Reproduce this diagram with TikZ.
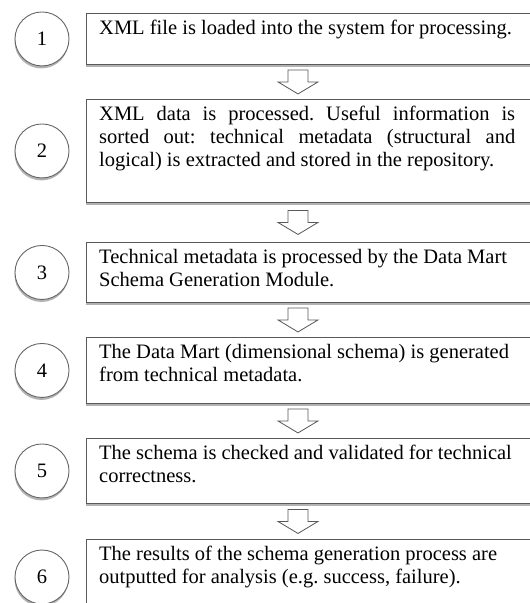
\documentclass[tikz,border=0pt]{standalone}
\usepackage{fontspec}
\setmainfont{Liberation Serif}
\usetikzlibrary{calc, shadows}

\tikzset{
  stepbox/.style={draw=black!65, line width=0.9pt, fill=white, anchor=north west,
    minimum width=474pt, inner sep=0pt,
    drop shadow={shadow xshift=0pt, shadow yshift=-2.5pt, fill=black, opacity=0.3}},
  steptext/.style={anchor=north west, inner sep=0pt, align=left, xshift=13pt, yshift=-7pt},
  numcircle/.style={circle, draw=black!60, line width=0.9pt, fill=white,
    minimum size=54pt, inner sep=0pt,
    drop shadow={shadow xshift=-0.5pt, shadow yshift=-2.5pt, fill=black, opacity=0.3}},
  pics/downarrow/.style={code={
    \draw[draw=black!65, fill=white, line width=0.8pt]
      (-10,-12) -- (10,-12) -- (10,0) -- (20,0) -- (0,12) -- (-20,0) -- (-10,0) -- cycle;}}
}

\begin{document}
\frenchspacing
\begin{tikzpicture}[x=1pt, y=-1pt, font=\fontsize{20.5pt}{23pt}\selectfont]
    \clip (0,0) rectangle (530,603);
    \coordinate (numcol) at (42,0);
    \coordinate (arrcol) at (298,0);

    % Step boxes
    \node[stepbox, minimum height=51pt] (box1) at (86,13) {};
    \node[stepbox, minimum height=103pt] (box2) at (86,99) {};
    \node[stepbox, minimum height=60pt] (box3) at (86,242) {};
    \node[stepbox, minimum height=66pt] (box4) at (86,337) {};
    \node[stepbox, minimum height=65pt] (box5) at (86,438) {};
    \node[stepbox, minimum height=90pt] (box6) at (86,539) {};

    % Texts
    \node[steptext] (txt1) at (box1.north west) {XML file is loaded into the system for processing.};
    \node[steptext, text width=416pt, align=justify] (txt2) at (box2.north west)
      {XML data is processed. Useful information is\linebreak
       sorted out: technical metadata (structural and\linebreak
       logical) is extracted and stored in the repository.};
    \node[steptext] (txt3) at (box3.north west) {Technical metadata is processed by the Data Mart\\Schema Generation Module.};
    \node[steptext] (txt4) at (box4.north west) {The Data Mart (dimensional schema) is generated\\from technical metadata.};
    \node[steptext] (txt5) at (box5.north west) {The schema is checked and validated for technical\\correctness.};
    \node[steptext] (txt6) at (box6.north west) {The results of the schema generation process are\\outputted for analysis (e.g. success, failure).};

    % Numbers
    \node[numcircle] (num1) at (numcol |- box1.west) {1};
    \node[numcircle] (num2) at (numcol |- box2.west) {2};
    \node[numcircle] (num3) at (numcol |- box3.west) {3};
    \node[numcircle] (num4) at (numcol |- box4.west) {4};
    \node[numcircle] (num5) at (numcol |- box5.west) {5};
    \node[numcircle] (num6) at (0,577 -| numcol) {6};

    % Block arrows
    \pic at ($(box1.south -| arrcol)!0.5!(box2.north -| arrcol)$) {downarrow};
    \pic at ($(box2.south -| arrcol)!0.5!(box3.north -| arrcol)$) {downarrow};
    \pic at ($(box3.south -| arrcol)!0.5!(box4.north -| arrcol)$) {downarrow};
    \pic at ($(box4.south -| arrcol)!0.5!(box5.north -| arrcol)$) {downarrow};
    \pic at ($(box5.south -| arrcol)!0.5!(box6.north -| arrcol)$) {downarrow};
\end{tikzpicture}
\end{document}
